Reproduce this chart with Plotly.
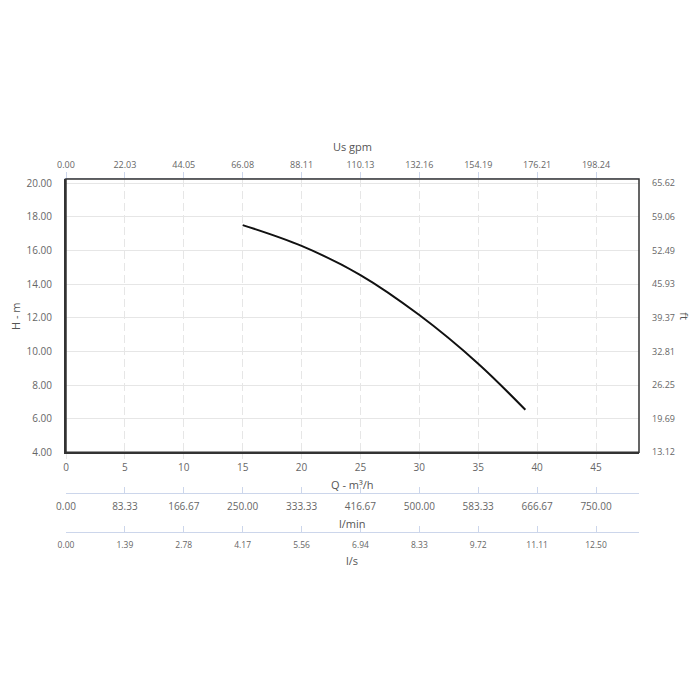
import plotly.graph_objects as go

# ---- data ----
q_m3h = [15, 20, 25, 30, 35, 39]
h_m = [17.51, 16.27, 14.54, 12.16, 9.27, 6.53]

q_ticks = [0, 5, 10, 15, 20, 25, 30, 35, 40, 45]
gpm_labels = ["0.00", "22.03", "44.05", "66.08", "88.11", "110.13", "132.16", "154.19", "176.21", "198.24"]
lmin_labels = ["0.00", "83.33", "166.67", "250.00", "333.33", "416.67", "500.00", "583.33", "666.67", "750.00"]
ls_labels = ["0.00", "1.39", "2.78", "4.17", "5.56", "6.94", "8.33", "9.72", "11.11", "12.50"]

h_ticks = [4, 6, 8, 10, 12, 14, 16, 18, 20]
h_labels = ["4.00", "6.00", "8.00", "10.00", "12.00", "14.00", "16.00", "18.00", "20.00"]
ft_labels = ["13.12", "19.69", "26.25", "32.81", "39.37", "45.93", "52.49", "59.06", "65.62"]

x_range = [0, 48.65]
y_range = [4, 20.25]

FONT = "Open Sans"
LBL = "#666666"
AXC = "#ccd6eb"
GRID = "#e6e6e6"

OFF = 8  # page body margin
# screen-pixel geometry (as seen in the screenshot)
LEFT, RIGHT = 66, 639.3
TOP, BOT = 179, 545
PH = BOT - TOP
PW = RIGHT - LEFT


def py(p):
    return (BOT - p) / PH


def px(p):
    return (p - LEFT) / PW


fig = go.Figure()
fig.add_trace(go.Scatter(x=q_m3h, y=h_m, mode="lines",
                         line=dict(color="#111111", width=2, shape="spline", smoothing=1.0),
                         hoverinfo="skip", showlegend=False))
# invisible traces to activate secondary axes
fig.add_trace(go.Scatter(x=[None], y=[None], xaxis="x2", yaxis="y2", showlegend=False))
fig.add_trace(go.Scatter(x=[None], y=[None], xaxis="x3", yaxis="y", showlegend=False))
fig.add_trace(go.Scatter(x=[None], y=[None], xaxis="x4", yaxis="y", showlegend=False))

common_x = dict(range=x_range, tickvals=q_ticks, fixedrange=True, tickmode="array")

fig.update_layout(
    width=700, height=700,
    margin=dict(l=LEFT - OFF, r=700 - RIGHT + OFF, t=TOP - OFF, b=700 - BOT + OFF),
    paper_bgcolor="white", plot_bgcolor="white",
    font=dict(family=FONT, color=LBL),
    showlegend=False,
    xaxis=dict(**common_x, ticktext=[str(v) for v in q_ticks],
               showgrid=True, gridcolor=GRID, griddash="8px,4px", gridwidth=1,
               showline=True, linecolor="#333333", linewidth=2,
               ticks="outside", ticklen=5, tickcolor=GRID,
               tickfont=dict(size=10, color=LBL), zeroline=False,
               anchor="y"),
    xaxis2=dict(**common_x, ticktext=gpm_labels,
                overlaying="x", side="top", anchor="y",
                showgrid=False, showline=True, linecolor=AXC, linewidth=1,
                ticks="outside", ticklen=6, tickcolor=AXC,
                tickfont=dict(size=9, color=LBL), zeroline=False),
    xaxis3=dict(**common_x, ticktext=lmin_labels,
                overlaying="x", side="bottom", anchor="free", position=py(492.5),
                showgrid=False, showline=True, linecolor=AXC, linewidth=1,
                ticks="inside", ticklen=6, tickcolor=AXC, ticklabelstandoff=4,
                tickfont=dict(size=10, color=LBL), zeroline=False),
    xaxis4=dict(**common_x, ticktext=ls_labels,
                overlaying="x", side="bottom", anchor="free", position=py(532),
                showgrid=False, showline=True, linecolor=AXC, linewidth=1,
                ticks="inside", ticklen=6, tickcolor=AXC, ticklabelstandoff=5,
                tickfont=dict(size=8.5, color=LBL), zeroline=False),
    yaxis=dict(range=y_range, tickvals=h_ticks, ticktext=h_labels, tickmode="array",
               domain=[py(452.3), 1], fixedrange=True,
               showgrid=True, gridcolor=GRID, gridwidth=1,
               showline=True, linecolor="#333333", linewidth=2,
               ticks="", ticklabelstandoff=10,
               tickfont=dict(size=10, color=LBL), zeroline=False,
               anchor="x"),
    yaxis2=dict(range=y_range, tickvals=h_ticks, ticktext=ft_labels, tickmode="array",
                overlaying="y", side="right", anchor="x", fixedrange=True,
                showgrid=False, showline=False, ticks="", ticklabelstandoff=12,
                tickfont=dict(size=9, color=LBL), zeroline=False),
)

# thin frame on top / right
fig.add_shape(type="rect", xref="x domain", yref="y domain", x0=0, x1=1, y0=0, y1=1,
              line=dict(color="#333333", width=1.5), layer="above")

title_font = dict(family=FONT, size=11, color="#555555")


def title(text, sx, sy, angle=0):
    return dict(text=text, x=px(sx), y=py(sy), xref="paper", yref="paper",
                xanchor="center", yanchor="middle", showarrow=False,
                textangle=angle, font=title_font)


ann = [
    title("Us gpm", 352.5, 147),
    title("Q - m³/h", 352.5, 484),
    title("l/min", 352.5, 523),
    title("l/s", 352.5, 560),
    title("H - m", 15, 316, -90),
    title("ft", 685, 316, 90),
]
fig.update_layout(annotations=ann)

fig.write_html("out.html")
